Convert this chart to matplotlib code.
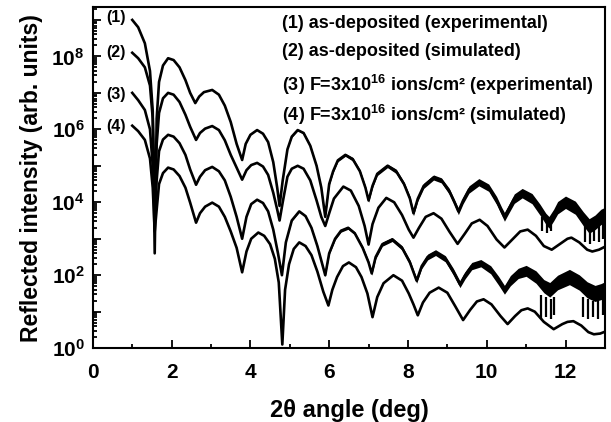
import numpy as np
import matplotlib
matplotlib.use("Agg")
from matplotlib import pyplot as plt
from matplotlib.ticker import MultipleLocator, LogLocator, NullFormatter

plt.rcParams['font.family'] = ['Liberation Sans', 'DejaVu Sans']
plt.rcParams['font.weight'] = 'bold'
plt.rcParams['mathtext.fontset'] = 'custom'
plt.rcParams['mathtext.rm'] = 'Liberation Sans:bold'
plt.rcParams['mathtext.it'] = 'Liberation Sans:bold'
plt.rcParams['mathtext.bf'] = 'Liberation Sans:bold'
plt.rcParams['mathtext.sf'] = 'Liberation Sans:bold'
plt.rcParams['mathtext.default'] = 'rm'

# values, as log10(intensity)
# (1) as-deposited, experimental
c1_x = [1.00, 1.15, 1.32, 1.45, 1.52, 1.57, 1.62, 1.68, 1.78, 1.91,
        2.05, 2.20, 2.35, 2.47, 2.60, 2.70, 2.82, 3.03, 3.20, 3.35,
        3.50, 3.65, 3.79, 3.88, 4.00, 4.17, 4.32, 4.45, 4.58, 4.68,
        4.74, 4.82, 4.94, 5.05, 5.20, 5.35, 5.52, 5.68, 5.80, 5.90,
        6.00, 6.10, 6.22, 6.41, 6.60, 6.78, 6.92, 7.00, 7.10, 7.22,
        7.48, 7.70, 7.90, 8.05, 8.14, 8.25, 8.40, 8.65, 8.85, 9.05,
        9.18, 9.28, 9.40, 9.55, 9.80, 10.05, 10.25, 10.38, 10.45, 10.55,
        10.70, 10.90, 11.15, 11.35, 11.50, 11.58, 11.70, 11.80, 12.00, 12.25,
        12.45, 12.60, 12.75, 12.90, 13.00]
c1_log = [9.0, 8.8, 8.36, 7.6, 6.5, 2.6, 6.3, 7.3, 7.75, 7.95,
          7.9, 7.7, 7.35, 7.0, 6.72, 6.9, 7.02, 7.08, 6.95, 6.65,
          6.2, 5.6, 5.16, 5.6, 5.85, 5.98, 5.88, 5.65, 5.1, 4.4,
          3.9, 4.6, 5.45, 5.8, 5.98, 5.9, 5.55, 5.0, 4.4, 3.6,
          4.5, 4.85, 5.15, 5.3, 5.18, 4.85, 4.4, 4.05, 4.45, 4.78,
          5.0, 4.85, 4.5, 4.1, 3.7, 4.1, 4.45, 4.68, 4.6, 4.3,
          4.0, 3.75, 4.05, 4.35, 4.55, 4.4, 4.05, 3.75, 3.6, 3.8,
          4.1, 4.25, 4.1, 3.8, 3.55, 3.45, 3.65, 3.85, 4.0, 3.85,
          3.55, 3.35, 3.45, 3.6, 3.65]
# half width of the noise band (decades)
c1_noise = [0] * 33 + [.02, .02, .03, .03, .03, .03, .03, .04, .04, .04,
                       .04, .05, .05, .05, .05, .05, .05, .05, .06, .06,
                       .07, .07, .07, .07, .07, .07, .08, .08, .09, .09,
                       .1, .1, .1, .11, .11, .12, .12, .13, .13, .14,
                       .15, .15, .16, .16, .17, .17, .18, .19, .2, .2,
                       .21, .21]
c1_spike_x = [11.40, 11.52, 11.63, 12.50, 12.62, 12.72, 12.85, 12.95]
c1_spike_lo = [3.2, 3.15, 3.2, 2.9, 2.85, 2.95, 2.9, 3.0]
c1_spike_hi = [3.6, 3.55, 3.6, 3.5, 3.4, 3.4, 3.45, 3.55]

# (2) as-deposited, simulated
c2_x = [1.00, 1.15, 1.32, 1.45, 1.52, 1.57, 1.62, 1.68, 1.78, 1.91,
        2.05, 2.20, 2.35, 2.47, 2.62, 2.72, 2.85, 3.03, 3.20, 3.35,
        3.50, 3.65, 3.79, 3.90, 4.02, 4.17, 4.32, 4.45, 4.58, 4.68,
        4.74, 4.82, 4.94, 5.05, 5.20, 5.35, 5.52, 5.68, 5.80, 5.90,
        6.00, 6.12, 6.36, 6.55, 6.75, 6.90, 7.00, 7.10, 7.25, 7.45,
        7.65, 7.85, 8.02, 8.14, 8.28, 8.45, 8.65, 8.85, 9.05, 9.26,
        9.45, 9.62, 9.82, 10.02, 10.25, 10.45, 10.65, 10.85, 11.04, 11.25,
        11.45, 11.65, 11.85, 12.05, 12.15, 12.35, 12.55, 12.68, 12.85, 13.00]
c2_log = [8.1, 7.95, 7.7, 7.2, 6.3, 4.3, 5.6, 6.45, 6.85, 7.0,
          6.95, 6.75, 6.4, 6.07, 5.71, 5.9, 6.02, 6.09, 5.98, 5.7,
          5.3, 4.95, 4.62, 4.88, 5.02, 5.08, 4.98, 4.75, 4.26, 3.8,
          3.5, 4.0, 4.7, 4.92, 5.0, 4.92, 4.6, 4.05, 3.6, 3.35,
          3.7, 4.1, 4.43, 4.32, 3.9, 3.35, 2.84, 3.4, 3.85, 4.12,
          4.0, 3.65, 3.25, 3.03, 3.3, 3.6, 3.7, 3.55, 3.2, 2.86,
          3.15, 3.42, 3.52, 3.35, 2.98, 2.76, 2.98, 3.2, 3.25, 3.08,
          2.8, 2.7, 2.85, 3.0, 3.03, 2.9, 2.7, 2.65, 2.7, 2.78]

# (3) F=3x10^16 ions/cm2, experimental
c3_x = [1.00, 1.15, 1.32, 1.45, 1.52, 1.57, 1.62, 1.68, 1.78, 1.91,
        2.05, 2.20, 2.35, 2.47, 2.62, 2.72, 2.85, 3.03, 3.20, 3.35,
        3.50, 3.65, 3.79, 3.90, 4.02, 4.17, 4.32, 4.45, 4.58, 4.70,
        4.80, 4.90, 5.05, 5.24, 5.40, 5.55, 5.70, 5.80, 5.90, 6.00,
        6.15, 6.30, 6.48, 6.65, 6.85, 7.00, 7.08, 7.18, 7.35, 7.60,
        7.85, 8.05, 8.22, 8.35, 8.50, 8.70, 8.95, 9.15, 9.32, 9.45,
        9.62, 9.85, 10.10, 10.30, 10.45, 10.60, 10.80, 11.00, 11.25, 11.45,
        11.60, 11.80, 12.10, 12.35, 12.55, 12.75, 12.90, 13.00]
c3_log = [7.0, 6.8, 6.53, 6.0, 5.0, 3.6, 4.6, 5.4, 5.72, 5.85,
          5.8, 5.62, 5.3, 4.9, 4.48, 4.7, 4.88, 4.97, 4.85, 4.6,
          4.15, 3.6, 3.0, 3.6, 3.95, 4.07, 3.98, 3.75, 3.25, 2.6,
          2.0, 2.9, 3.5, 3.75, 3.62, 3.3, 2.8, 2.4, 2.0, 2.6,
          3.0, 3.22, 3.3, 3.15, 2.75, 2.35, 2.05, 2.5, 2.85, 2.98,
          2.75, 2.35, 1.85, 2.25, 2.5, 2.62, 2.45, 2.1, 1.75, 2.0,
          2.25, 2.33, 2.15, 1.85, 1.6, 1.85, 2.05, 2.12, 1.95, 1.7,
          1.6, 1.8, 1.95, 1.8, 1.6, 1.5, 1.55, 1.6]
c3_noise = [0] * 32 + [.015, .02, .02, .03, .03, .03, .035, .035, .035, .04,
                       .04, .04, .05, .05, .05, .055, .055, .055, .06, .07,
                       .07, .07, .08, .08, .085, .09, .09, .1, .1, .1,
                       .11, .12, .12, .14, .14, .15, .17, .18, .2, .2,
                       .21, .21, .22, .22, .22, .22]
c3_spike_x = [11.38, 11.50, 11.62, 11.72, 12.45, 12.58, 12.70, 12.82, 12.95]
c3_spike_lo = [0.8, 0.85, 0.8, 0.9, 0.85, 0.8, 0.85, 0.8, 0.9]
c3_spike_hi = [1.45, 1.4, 1.35, 1.4, 1.4, 1.35, 1.3, 1.3, 1.35]

# (4) F=3x10^16 ions/cm2, simulated
c4_x = [1.00, 1.15, 1.32, 1.45, 1.52, 1.57, 1.62, 1.68, 1.78, 1.91,
        2.05, 2.20, 2.35, 2.47, 2.62, 2.72, 2.85, 3.03, 3.20, 3.35,
        3.50, 3.65, 3.79, 3.90, 4.02, 4.20, 4.35, 4.50, 4.62, 4.72,
        4.81, 4.88, 4.98, 5.10, 5.24, 5.40, 5.55, 5.70, 5.85, 5.98,
        6.08, 6.20, 6.35, 6.50, 6.68, 6.82, 6.97, 7.10, 7.22, 7.38,
        7.63, 7.85, 8.02, 8.14, 8.25, 8.38, 8.55, 8.78, 9.00, 9.20,
        9.40, 9.58, 9.75, 9.92, 10.12, 10.35, 10.53, 10.72, 10.88, 11.04,
        11.22, 11.45, 11.70, 11.92, 12.05, 12.20, 12.40, 12.58, 12.72, 12.88, 13.00]
c4_log = [6.1, 5.95, 5.71, 5.2, 4.4, 3.2, 3.8, 4.5, 4.8, 4.95,
          4.9, 4.72, 4.4, 3.99, 3.44, 3.7, 3.88, 3.99, 3.88, 3.6,
          3.2, 2.75, 2.08, 2.65, 3.0, 3.17, 3.08, 2.85, 2.45, 1.8,
          0.1, 1.6, 2.3, 2.72, 2.9, 2.8, 2.55, 2.1, 1.55, 1.17,
          1.6, 1.95, 2.25, 2.35, 2.22, 1.95, 1.5, 0.85, 1.4, 1.78,
          2.0, 1.85, 1.5, 1.2, 0.9, 1.25, 1.52, 1.66, 1.52, 1.15,
          0.77, 1.05, 1.28, 1.34, 1.2, 0.88, 0.66, 0.88, 1.04, 1.09,
          1.0, 0.72, 0.52, 0.66, 0.72, 0.74, 0.62, 0.44, 0.38, 0.4, 0.45]

labels = ["(1)", "(2)", "(3)", "(4)"]
legend_lines = ["(1) as-deposited (experimental)",
                "(2) as-deposited (simulated)",
                "(3) F=3x10$^{16}$ ions/cm\u00b2 (experimental)",
                "(4) F=3x10$^{16}$ ions/cm\u00b2 (simulated)"]

fig = plt.figure(figsize=(6.11, 4.22), dpi=100)
ax = fig.add_axes([0.152, 0.175, 0.838, 0.808])

lw = 1.9
for xs, ys, nz in [(c1_x, c1_log, c1_noise), (c3_x, c3_log, c3_noise)]:
    xs = np.array(xs)
    ys = np.array(ys)
    nz = np.array(nz)
    ax.plot(xs, 10 ** ys, color="black", lw=lw, solid_joinstyle="round")
    ax.fill_between(xs, 10 ** (ys - nz), 10 ** (ys + nz), color="black", lw=0)
for xs, ys in [(c2_x, c2_log), (c4_x, c4_log)]:
    ax.plot(xs, 10 ** np.array(ys), color="black", lw=lw, solid_joinstyle="round")

ax.vlines(c1_spike_x, 10 ** np.array(c1_spike_lo), 10 ** np.array(c1_spike_hi), color="black", lw=1.6)
ax.vlines(c3_spike_x, 10 ** np.array(c3_spike_lo), 10 ** np.array(c3_spike_hi), color="black", lw=1.6)

ax.set_yscale("log")
ax.set_xlim(0, 13)
ax.set_ylim(1, 10 ** 9.35)

ax.set_xticks(range(0, 13, 2))
ax.xaxis.set_minor_locator(MultipleLocator(1))
ax.set_yticks([10 ** k for k in range(0, 10)])
ax.set_yticklabels(["$10^{%d}$" % k if k % 2 == 0 else "" for k in range(0, 10)])
ax.yaxis.set_minor_locator(LogLocator(base=10, subs=range(2, 10), numticks=20))
ax.yaxis.set_minor_formatter(NullFormatter())
ax.tick_params(which="both", direction="in", width=1.3, labelsize=15)
ax.tick_params(which="major", length=6)
ax.tick_params(which="minor", length=3)
ax.tick_params(axis="x", pad=11)
ax.tick_params(axis="y", pad=6)
for sp in ax.spines.values():
    sp.set_linewidth(1.5)

ax.set_xlabel("2\u03b8 angle (deg)", fontsize=17, fontweight="bold", labelpad=12)
ax.set_ylabel("Reflected intensity (arb. units)", fontsize=16.5, fontweight="bold", labelpad=6)

lab_y = [0.971, 0.868, 0.745, 0.651]
for t, yy in zip(labels, lab_y):
    ax.text(0.045, yy, t, transform=ax.transAxes, fontsize=11.5, fontweight="bold",
            ha="center", va="center")

leg_y = [0.952, 0.870, 0.773, 0.685]
for t, yy in zip(legend_lines, leg_y):
    ax.text(0.369, yy, t, transform=ax.transAxes, fontsize=13, fontweight="bold",
            ha="left", va="center")

fig.savefig("out.png", dpi=100)
